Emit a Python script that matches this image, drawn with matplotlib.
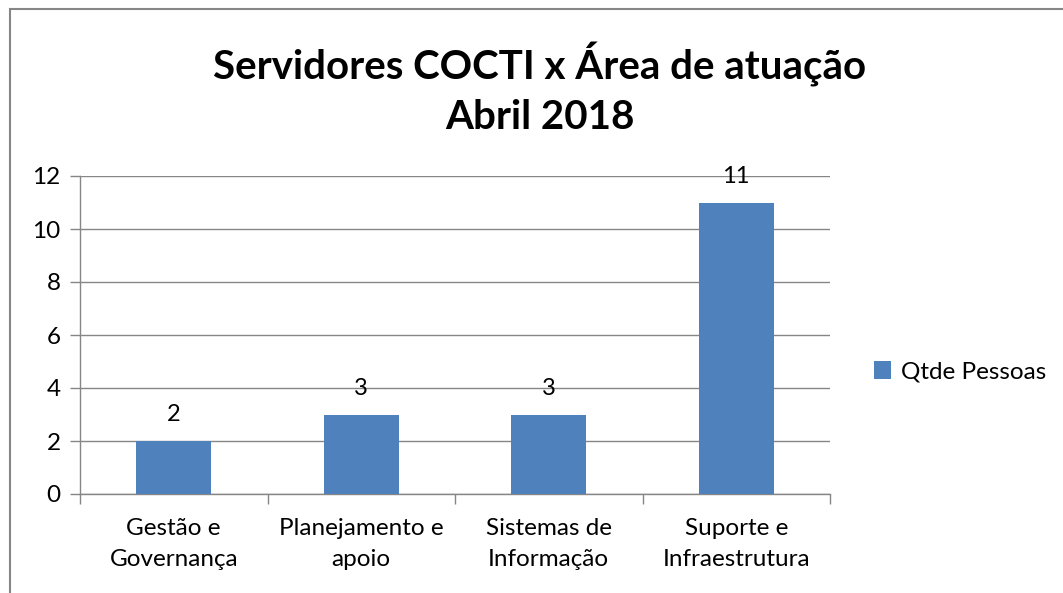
#!/usr/bin/env python3

import matplotlib.pyplot as plt
from matplotlib.patches import Rectangle
import numpy as np

# Data
categorias = ["Gestão e\nGovernança", "Planejamento e\napoio",
              "Sistemas de\nInformação", "Suporte e\nInfraestrutura"]
qtde_pessoas = [2, 3, 3, 11]
serie = "Qtde Pessoas"
yticks = [0, 2, 4, 6, 8, 10, 12]

plt.rcParams['font.family'] = ['Lato', 'DejaVu Sans']

fig = plt.figure(figsize=(10.63, 5.93), dpi=100)
ax = fig.add_axes([80 / 1063, 1 - 494 / 593, 750 / 1063, 318 / 593])

x = np.arange(len(categorias))
bars = ax.bar(x, qtde_pessoas, width=0.4, color="#4F81BD", label=serie, zorder=3)

# value labels above bars
for b, v in zip(bars, qtde_pessoas):
    ax.annotate(str(v), (b.get_x() + b.get_width() / 2, v), xytext=(0, 19),
                textcoords="offset points", ha="center", va="center",
                fontsize=17, color="#000000")

ax.set_xlim(-0.5, len(categorias) - 0.5)
ax.set_ylim(0, 12)
ax.set_yticks(yticks)
ax.yaxis.grid(True, color="#868686", linewidth=1, zorder=0)

ax.set_xticks(x)
ax.set_xticklabels(categorias, fontsize=17.5, linespacing=1.6)
ax.set_xticks(np.arange(-0.5, len(categorias)), minor=True)
ax.tick_params(axis="x", which="major", length=0, pad=17)
ax.tick_params(axis="x", which="minor", length=7, color="#868686", width=1)
ax.tick_params(axis="y", length=7, color="#868686", width=1, labelsize=17.5, pad=7)

for s in ["top", "right"]:
    ax.spines[s].set_visible(False)
for s in ["left", "bottom"]:
    ax.spines[s].set_color("#868686")
    ax.spines[s].set_linewidth(1)

fig.text(540 / 1063, 1 - 89 / 593, "Servidores COCTI x Área de atuação\nAbril 2018",
         ha="center", va="center", fontsize=29, fontweight="bold",
         linespacing=1.4)

ax.legend(loc="center left", bbox_to_anchor=(852 / 1063, 1 - 372 / 593),
          bbox_transform=fig.transFigure, frameon=False, fontsize=17.5,
          handlelength=0.7, handleheight=0.7, handletextpad=0.4)

# chart border
fig.patches.append(Rectangle((10 / 1063, -0.1), 1.2, 1 - 9 / 593 + 0.1,
                             transform=fig.transFigure, fill=False,
                             edgecolor="#868686", linewidth=1.5))

fig.savefig("out.png", dpi=100)
